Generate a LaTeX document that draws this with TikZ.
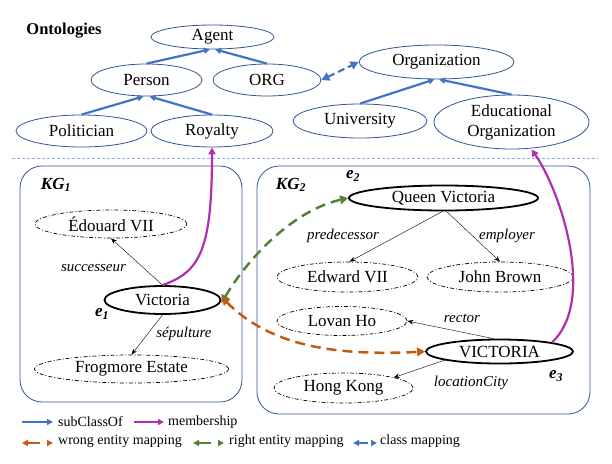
\documentclass[tikz,border=0pt]{standalone}
\usepackage{fontspec}
\setmainfont{Liberation Serif}
\usetikzlibrary{arrows.meta,shapes.geometric}
\definecolor{subc}{HTML}{4472C4}
\definecolor{elb}{HTML}{2F5597}
\definecolor{memb}{HTML}{B02FB0}
\definecolor{wrongc}{HTML}{C55A11}
\definecolor{rightc}{HTML}{548235}
\definecolor{sepc}{HTML}{8FAADC}
\begin{document}
\begin{tikzpicture}[x=1pt,y=-1pt,
  big/.style={font=\fontsize{17}{19}\selectfont},
  ont/.style={ellipse,draw=elb,line width=0.8pt,inner sep=0pt,big,align=center},
  ent/.style={ellipse,draw=black,line width=0.7pt,dash pattern=on 4pt off 2pt on 1pt off 2pt,inner sep=0pt,big},
  mainent/.style={ellipse,draw=black,line width=1.8pt,inner sep=0pt,big},
  sub/.style={draw=subc,line width=2.2pt,-{Triangle[length=6pt,width=6pt]}},
  rel/.style={draw=black,line width=0.4pt,-{Stealth[length=6pt,width=4.5pt]}},
  membarrow/.style={draw=memb,line width=2.2pt,-{Triangle[length=7pt,width=7pt]}},
  mapping/.style={line width=2.5pt,dash pattern=on 10pt off 6pt,{Triangle[length=8pt,width=8.5pt]}-{Triangle[length=8pt,width=8.5pt]}},
  lab/.style={font=\fontsize{15}{17}\selectfont\itshape,inner sep=0pt},
  leg/.style={font=\fontsize{14}{16}\selectfont,anchor=west,inner sep=0pt},
  kgbox/.style={draw=elb,line width=0.8pt,rounded corners=22pt,inner sep=0pt},
  elab/.style={font=\fontsize{17}{19}\selectfont\bfseries\itshape,inner sep=0pt}]
\useasboundingbox (0,0) rectangle (612,463);

% Ontologies
\node[font=\fontsize{16.5}{18}\selectfont\bfseries] (ontt) at (64,31) {Ontologies};
\node[ont,minimum width=123,minimum height=24] (agent) at (212.5,37) {Agent};
\node[ont,minimum width=111,minimum height=32] (person) at (146.5,80) {Person};
\node[ont,minimum width=108,minimum height=32] (org) at (267,80) {ORG};
\node[ont,minimum width=131,minimum height=32] (politician) at (81.5,131) {Politician};
\node[ont,minimum width=122,minimum height=32] (royalty) at (212,131) {Royalty};
\node[ont,minimum width=155,minimum height=34] (organization) at (436.5,62) {Organization};
\node[ont,minimum width=134,minimum height=34] (university) at (360,121) {University};
\node[ont,minimum width=155,minimum height=54] (eduorg) at (511.5,122) {Educational\\[1pt]Organization};

\draw[sub] (person.north) -- ([xshift=-2.5pt]agent.south);
\draw[sub] (org.north) -- ([xshift=2.5pt]agent.south);
\draw[sub] (politician.north) -- ([xshift=-3pt]person.south);
\draw[sub] (royalty.north) -- ([xshift=3pt]person.south);
\draw[sub] (university.north) -- ([xshift=-2pt]organization.south);
\draw[sub] (eduorg.north) -- ([xshift=2.5pt]organization.south);
\draw[mapping,draw=subc,line width=2.2pt,dash pattern=on 7pt off 4pt] (org.east) -- (organization.west);

% separator
\coordinate (sepL) at (12,158);
\coordinate (sepR) at (598,158);
\draw[sepc,line width=1pt,dash pattern=on 3pt off 2pt] (sepL) -- (sepR);

% KG boxes
\node[kgbox,minimum width=222,minimum height=236] (kg1box) at (131,284) {};
\node[kgbox,minimum width=333,minimum height=248] (kg2box) at (423.5,290) {};
\node[elab] (kg1) at (56,185) {KG\textsubscript{1}};
\node[elab] (kg2) at (291,185) {KG\textsubscript{2}};

% KG1
\node[ent,minimum width=152,minimum height=28] (edouard) at (111,224) {Édouard VII};
\node[mainent,minimum width=116,minimum height=28] (victoria) at (162.5,300) {Victoria};
\node[ent,minimum width=194,minimum height=28] (frogmore) at (131.5,369) {Frogmore Estate};
\node[elab] (e1) at (102,314) {e\textsubscript{1}};
\draw[rel] (victoria.north) -- (edouard.south);
\draw[rel] (victoria.south) -- (frogmore.north);
\node[lab] (succ) at (93.5,268) {successeur};
\node[lab] (sepu) at (184,334) {sépulture};

% KG2
\node[mainent,minimum width=189,minimum height=25] (queenv) at (443.5,198) {Queen Victoria};
\node[elab] (e2) at (353,176) {e\textsubscript{2}};
\node[ent,minimum width=141,minimum height=30] (edward) at (347.5,277) {Edward VII};
\node[ent,minimum width=146,minimum height=30] (john) at (500,277) {John Brown};
\node[ent,minimum width=130,minimum height=29] (lovan) at (342,321) {Lovan Ho};
\node[mainent,minimum width=147,minimum height=24] (vict) at (499.5,351.5) {VICTORIA};
\node[elab] (e3) at (556,376) {e\textsubscript{3}};
\node[ent,minimum width=139,minimum height=30] (hk) at (343.5,388) {Hong Kong};
\draw[rel] ([xshift=-1pt]queenv.south) -- ([xshift=2pt]edward.north);
\draw[rel] ([xshift=3pt]queenv.south) -- (john.north);
\draw[rel] ([xshift=-6pt]vict.north) -- (lovan.east);
\draw[rel] ([xshift=-53.5pt,yshift=-8.2pt]vict.center) -- ([xshift=50pt,yshift=10.4pt]hk.center);
\node[lab] (pred) at (343,236) {predecessor};
\node[lab] (empl) at (507,236) {employer};
\node[lab] (rect) at (462,318) {rector};
\node[lab] (locc) at (471,383) {locationCity};

% membership
\draw[membarrow] (victoria.north) .. controls (200,272) and (212,250) .. (royalty.south);
\draw[membarrow] (vict.north east) .. controls (597,300) and (560,190) .. ([xshift=20pt]eduorg.south);

% mappings
\draw[mapping,draw=rightc] ([yshift=-3pt]victoria.east) .. controls (250,255) and (295,210) .. (queenv.west);
\draw[mapping,draw=wrongc] ([yshift=3pt]victoria.east) .. controls (265,340) and (320,357) .. (vict.west);

% legend
\coordinate (l1a) at (22,422); \coordinate (l1b) at (53,422);
\coordinate (l2a) at (134,422); \coordinate (l2b) at (164,422);
\coordinate (l3a) at (22,443); \coordinate (l3b) at (53,443);
\coordinate (l4a) at (193,443); \coordinate (l4b) at (224,443);
\coordinate (l5a) at (353,443); \coordinate (l5b) at (377,443);
\draw[sub,line width=2pt] (l1a) -- (l1b);
\node[leg] (t1) at (58,422) {subClassOf};
\draw[membarrow,line width=2pt,-{Triangle[length=6pt,width=6pt]}] (l2a) -- (l2b);
\node[leg] (t2) at (168,422) {membership};
\draw[draw=wrongc,line width=2pt,dash pattern=on 12pt off 7pt,{Triangle[length=6pt,width=6pt]}-{Triangle[length=6pt,width=6pt]}] (l3a) -- (l3b);
\node[leg] (t3) at (58,441) {wrong entity mapping};
\draw[draw=rightc,line width=2pt,dash pattern=on 12pt off 7pt,{Triangle[length=6pt,width=6pt]}-{Triangle[length=6pt,width=6pt]}] (l4a) -- (l4b);
\node[leg] (t4) at (229,441) {right entity mapping};
\draw[draw=subc,line width=2pt,dash pattern=on 9pt off 6pt,{Triangle[length=6pt,width=6pt]}-{Triangle[length=6pt,width=6pt]}] (l5a) -- (l5b);
\node[leg] (t5) at (380,441) {class mapping};
\end{tikzpicture}
\end{document}
